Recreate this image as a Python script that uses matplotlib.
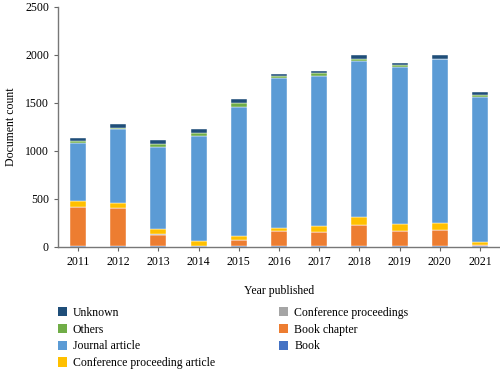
import numpy as np
import matplotlib
matplotlib.use("Agg")
import matplotlib.pyplot as plt
from matplotlib.patches import Patch

plt.rcParams['font.family'] = ['Liberation Serif', 'DejaVu Serif']

years = ['2011', '2012', '2013', '2014', '2015', '2016', '2017', '2018', '2019', '2020', '2021']

# stacked bottom -> top
book = [5, 5, 5, 5, 5, 5, 5, 5, 5, 5, 5]
book_chapter = [412, 395, 120, 5, 63, 157, 153, 220, 157, 167, 18]
conf_proceedings = [0, 5, 5, 0, 0, 0, 0, 0, 5, 5, 0]
conf_article = [59, 53, 61, 53, 47, 38, 64, 84, 69, 70, 29]
journal = [607, 765, 844, 1090, 1337, 1560, 1553, 1625, 1639, 1705, 1511]
others = [18, 17, 35, 28, 41, 18, 31, 21, 14, 0, 17]
unknown = [34, 35, 41, 41, 45, 24, 21, 42, 21, 41, 31]

series = [
    ('Book', book, '#4472c4'),
    ('Book chapter', book_chapter, '#ed7d31'),
    ('Conference proceedings', conf_proceedings, '#a5a5a5'),
    ('Conference proceeding article', conf_article, '#ffc000'),
    ('Journal article', journal, '#5b9bd5'),
    ('Others', others, '#70ad47'),
    ('Unknown', unknown, '#1f4e79'),
]

fig = plt.figure(figsize=(5, 3.69), dpi=100)
ax = fig.add_axes([0.116, 0.331, 0.884, 0.651])

x = np.arange(len(years))
bottom = np.zeros(len(years))
colors = {}
for name, vals, c in series:
    ax.bar(x, vals, width=0.4, bottom=bottom, color=c, edgecolor='white', linewidth=0.3)
    bottom += np.array(vals)
    colors[name] = c

ax.set_xlim(-0.5, 10.5)
ax.set_ylim(0, 2500)
ax.set_yticks([0, 500, 1000, 1500, 2000, 2500])
ax.set_xticks(x)
ax.set_xticklabels(years)
ax.tick_params(labelsize=8.5, length=3, color='#666666', width=0.8)
for s in ['top', 'right']:
    ax.spines[s].set_visible(False)
for s in ['left', 'bottom']:
    ax.spines[s].set_color('#777777')
    ax.spines[s].set_linewidth(1.0)

ax.set_xlabel('Year published', fontsize=8.5, labelpad=12)
ax.set_ylabel('Document count', fontsize=8.5, labelpad=6)

order = ['Unknown', 'Others', 'Journal article', 'Conference proceeding article',
         'Conference proceedings', 'Book chapter', 'Book']
handles = [Patch(facecolor=colors[n], label=n) for n in order]
fig.legend(handles=handles, loc='upper left', bbox_to_anchor=(0.094, 0.197), ncol=2,
           frameon=False, fontsize=8.5, handlelength=0.8, handleheight=0.8,
           handletextpad=0.5, columnspacing=5.4, labelspacing=0.4)

fig.savefig('out.png', dpi=100)
